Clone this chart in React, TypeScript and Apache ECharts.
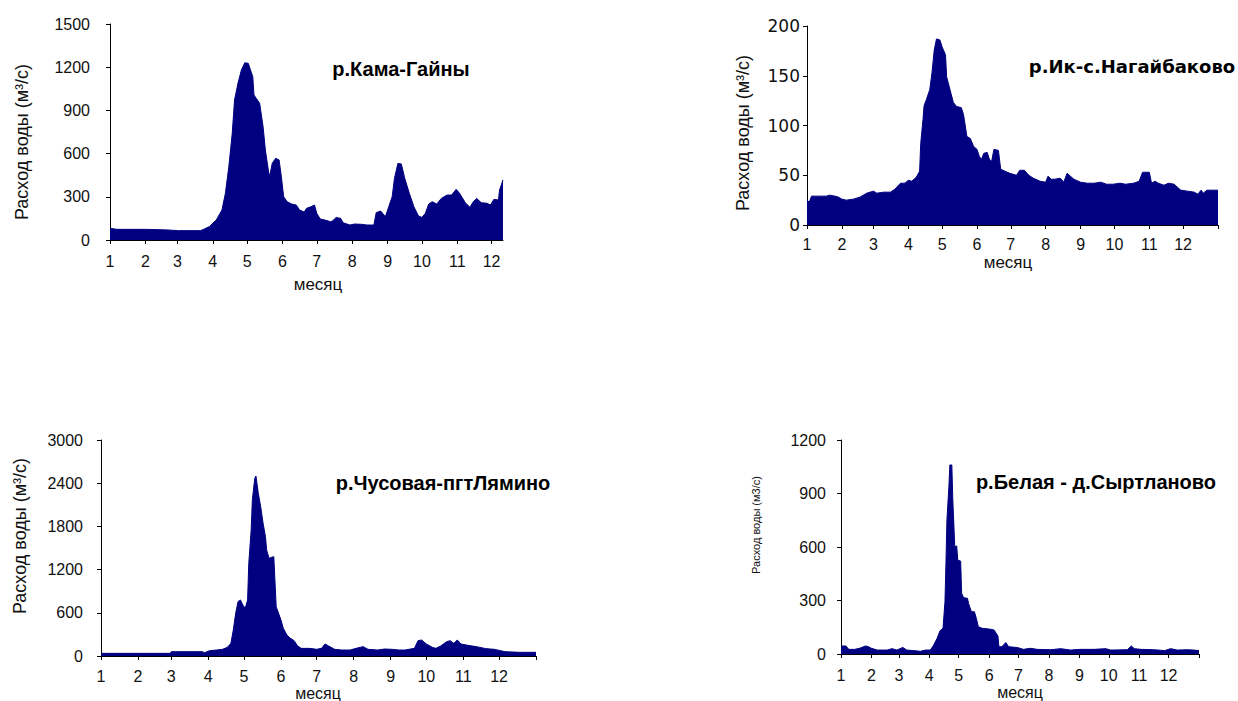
import React, { useEffect, useRef } from "react";
import * as echarts from "echarts";

// Day-of-year at which each month starts (x axis is in days)
const monthStarts = [0, 31, 59, 90, 120, 151, 181, 212, 243, 273, 304, 334];
const monthLabels = ["1", "2", "3", "4", "5", "6", "7", "8", "9", "10", "11", "12"];

const riverTitles = ["р.Кама-Гайны", "р.Ик-с.Нагайбаково", "р.Чусовая-пгтЛямино", "р.Белая - д.Сыртланово"];
const yAxisTitle = "Расход воды (м³/с)";
const yAxisTitleSmall = "Расход воды (м3/с)";
const xAxisTitle = "месяц";

// р.Кама-Гайны
const kamaDays = [0, 6, 31, 50, 60, 79, 82, 87, 93, 98, 101, 104, 107, 109, 112, 115, 118, 121, 123, 125, 126, 128, 131, 134, 136, 139, 140, 142, 145, 148, 150, 152, 155, 159, 163, 166, 170, 172, 176, 179, 181, 184, 188, 193, 195, 198, 202, 204, 210, 214, 220, 225, 231, 233, 237, 241, 244, 247, 249, 252, 255, 258, 262, 266, 270, 273, 276, 279, 282, 286, 290, 295, 299, 303, 306, 311, 315, 318, 321, 325, 330, 333, 336, 340, 341, 344];
const kamaFlow = [81, 74, 74, 70, 65, 65, 74, 93, 139, 208, 324, 509, 741, 972, 1088, 1180, 1231, 1227, 1180, 1134, 1007, 984, 949, 787, 625, 463, 451, 532, 567, 556, 440, 301, 266, 250, 243, 208, 194, 220, 231, 243, 185, 146, 139, 127, 134, 157, 150, 120, 104, 111, 109, 104, 104, 190, 201, 162, 231, 301, 428, 532, 528, 428, 324, 231, 167, 157, 185, 250, 266, 250, 289, 312, 312, 352, 324, 259, 227, 266, 289, 259, 255, 243, 282, 278, 347, 417];

// р.Ик-с.Нагайбаково
const ikDays = [0, 2, 4, 11, 17, 20, 25, 28, 31, 35, 41, 47, 53, 59, 62, 68, 74, 78, 83, 87, 90, 93, 97, 100, 101, 103, 104, 106, 109, 111, 113, 115, 118, 120, 123, 124, 127, 130, 133, 137, 139, 142, 145, 148, 151, 153, 155, 157, 160, 162, 164, 166, 170, 172, 176, 180, 186, 189, 193, 197, 201, 207, 212, 214, 217, 220, 225, 228, 231, 234, 237, 243, 249, 255, 261, 266, 272, 278, 283, 290, 295, 298, 304, 306, 309, 312, 317, 321, 326, 332, 338, 344, 347, 350, 352, 355, 365];
const ikFlow = [25, 23, 29, 29, 29, 30, 29, 28, 26, 25, 26, 28, 32, 34, 32, 33, 33, 36, 42, 42, 45, 44, 48, 54, 82, 106, 120, 126, 136, 153, 176, 187, 186, 179, 171, 149, 136, 123, 119, 118, 111, 89, 87, 79, 76, 69, 66, 72, 73, 66, 64, 76, 75, 56, 54, 52, 50, 55, 55, 50, 47, 44, 43, 49, 46, 46, 47, 43, 52, 49, 46, 43, 42, 42, 43, 41, 41, 42, 41, 42, 44, 53, 53, 42, 44, 42, 40, 42, 41, 35, 34, 33, 31, 35, 32, 35, 35];

// р.Чусовая-пгтЛямино
const chusDays = [0, 58, 59, 85, 87, 91, 97, 102, 106, 109, 111, 113, 115, 117, 119, 121, 123, 124, 126, 127, 129, 130, 132, 134, 136, 138, 139, 141, 143, 145, 147, 149, 151, 153, 156, 159, 162, 165, 168, 175, 181, 185, 188, 191, 196, 202, 209, 214, 220, 224, 232, 238, 244, 250, 255, 263, 266, 269, 273, 278, 281, 285, 290, 293, 296, 299, 302, 308, 315, 323, 330, 339, 351, 365];
const chusFlow = [37, 37, 60, 60, 46, 74, 83, 93, 120, 176, 361, 593, 755, 778, 708, 662, 778, 1287, 1750, 2167, 2468, 2500, 2259, 2074, 1843, 1657, 1472, 1356, 1370, 1380, 685, 593, 500, 384, 292, 245, 213, 139, 106, 106, 93, 106, 167, 139, 93, 83, 83, 106, 130, 93, 83, 97, 93, 83, 83, 106, 213, 222, 167, 120, 106, 139, 199, 213, 176, 222, 167, 148, 130, 102, 93, 60, 51, 51];

// р.Белая - д.Сыртланово
const belDays = [0, 5, 8, 14, 19, 25, 28, 31, 37, 47, 52, 57, 63, 67, 74, 81, 86, 91, 94, 98, 101, 104, 106, 107, 108, 110, 111, 113, 114, 116, 118, 119, 122, 123, 125, 129, 130, 133, 136, 138, 140, 144, 151, 156, 160, 161, 164, 168, 171, 180, 186, 193, 200, 214, 224, 234, 244, 258, 270, 275, 292, 296, 299, 306, 319, 330, 336, 343, 353, 360, 365];
const belFlow = [45, 45, 26, 26, 32, 45, 41, 32, 22, 22, 30, 22, 37, 22, 19, 15, 22, 22, 45, 88, 131, 144, 293, 508, 751, 938, 1060, 1060, 864, 602, 606, 527, 521, 340, 316, 312, 284, 237, 237, 200, 153, 144, 140, 135, 101, 41, 41, 64, 41, 36, 26, 32, 26, 24, 30, 22, 26, 26, 30, 22, 24, 45, 30, 26, 24, 19, 30, 22, 24, 22, 19];

const seriesDays = [kamaDays, ikDays, chusDays, belDays];
const seriesFlow = [kamaFlow, ikFlow, chusFlow, belFlow];
const yMax = [1500, 200, 3000, 1200];
const yStep = [300, 50, 600, 300];
const xMax = [344, 365, 365, 365];

const FONT = "'Liberation Sans', Arial, sans-serif";
const WIDE = "'DejaVu Sans', sans-serif";
const NAVY = "#000080";
const TXT = "#111";

// layout only
const panels = [
  { grid: { left: 110, top: 24, width: 393, height: 216 }, yMargin: 20, xMargin: 14, yFont: FONT, yFontSize: 16 },
  { grid: { left: 807, top: 26, width: 411, height: 199 }, yMargin: 7, xMargin: 12, yFont: WIDE, yFontSize: 17 },
  { grid: { left: 101, top: 440, width: 435, height: 216 }, yMargin: 18, xMargin: 13, yFont: FONT, yFontSize: 16 },
  { grid: { left: 841, top: 440, width: 358, height: 214 }, yMargin: 15, xMargin: 14, yFont: FONT, yFontSize: 16 },
];
const titleFont = [FONT, WIDE, FONT, FONT];
const titleSize = [20, 18, 20, 20];
const titlePos = [[401, 69], [1132, 66], [443, 483], [1096, 482]];
const xNamePos = [[318, 284], [1008, 262], [318, 693], [1020, 692]];
const yNamePos = [[22, 142], [743, 133], [20, 536], [756, 525]];

export default function App() {
  const ref = useRef<HTMLDivElement>(null);
  useEffect(() => {
    if (!ref.current) return;
    const chart = echarts.init(ref.current, null, { renderer: "svg" });
    const monthFmt = (v: number) => {
      const i = monthStarts.findIndex((m) => Math.abs(m - v) < 0.5);
      return i >= 0 ? monthLabels[i] : "";
    };
    const grids = panels.map((p) => ({ ...p.grid, containLabel: false, outerBoundsMode: "none" }));
    const xAxes = panels.map((p, i) => {
      const ticks = xMax[i] >= 365 ? [...monthStarts, 365] : monthStarts.slice();
      return {
        type: "value",
        gridIndex: i,
        min: 0,
        max: xMax[i],
        splitLine: { show: false },
        axisLine: { show: true, onZero: false, lineStyle: { color: "#000", width: 1 } },
        axisTick: { show: true, length: 4, customValues: ticks, lineStyle: { color: "#000" } },
        axisLabel: {
          show: true,
          customValues: monthStarts,
          formatter: monthFmt,
          margin: p.xMargin,
          fontSize: 16,
          lineHeight: 14,
          fontFamily: FONT,
          color: TXT,
        },
      };
    });
    const yAxes = panels.map((p, i) => ({
      type: "value",
      gridIndex: i,
      min: 0,
      max: yMax[i],
      interval: yStep[i],
      splitLine: { show: false },
      axisLine: { show: true, lineStyle: { color: "#000", width: 1 } },
      axisTick: { show: true, length: 4, lineStyle: { color: "#000" } },
      axisLabel: {
        margin: p.yMargin,
        fontSize: p.yFontSize,
        fontFamily: p.yFont,
        color: TXT,
        formatter: (v: number) => String(v),
      },
    }));
    const series = seriesDays.map((days, i) => ({
      type: "line",
      xAxisIndex: i,
      yAxisIndex: i,
      name: riverTitles[i],
      data: days.map((d, k) => [d, seriesFlow[i][k]]),
      symbol: "none",
      showSymbol: false,
      smooth: false,
      lineStyle: { color: NAVY, width: 1 },
      areaStyle: { color: NAVY, opacity: 1 },
      silent: true,
    }));
    const graphic: any[] = [];
    riverTitles.forEach((t, i) => {
      graphic.push({
        type: "text",
        x: titlePos[i][0],
        y: titlePos[i][1],
        style: { text: t, fontSize: titleSize[i], fontWeight: "bold", fontFamily: titleFont[i], fill: "#000", align: "center", verticalAlign: "middle" },
      });
      graphic.push({
        type: "text",
        x: xNamePos[i][0],
        y: xNamePos[i][1],
        style: { text: xAxisTitle, fontSize: i >= 2 ? 16 : 17, lineHeight: 14, fontFamily: FONT, fill: TXT, align: "center", verticalAlign: "middle" },
      });
      graphic.push({
        type: "text",
        x: yNamePos[i][0],
        y: yNamePos[i][1],
        rotation: Math.PI / 2,
        style: {
          text: i === 3 ? yAxisTitleSmall : yAxisTitle,
          fontSize: i === 3 ? 11 : 18,
          fontFamily: FONT,
          fill: TXT,
          align: "center",
          verticalAlign: "middle",
        },
      });
    });
    chart.setOption({
      animation: false,
      backgroundColor: "#fff",
      grid: grids,
      xAxis: xAxes,
      yAxis: yAxes,
      series,
      graphic,
    });
    return () => chart.dispose();
  }, []);
  return (
    <div
      ref={ref}
      style={{ position: "fixed", left: 0, top: 0, width: 1238, height: 701, background: "#fff" }}
    />
  );
}
